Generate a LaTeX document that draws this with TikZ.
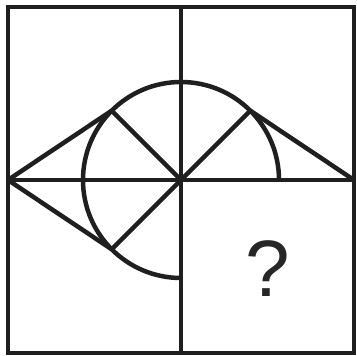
\documentclass[tikz,border=0pt]{standalone}
\usepackage{fontspec}
\setmainfont{Liberation Sans}
\usetikzlibrary{calc}
\begin{document}
\begin{tikzpicture}[x=1pt,y=1pt,
  stroke/.style={draw=black!88, line width=4.5pt, line cap=butt, line join=miter},
  qmark/.style={text=black!85, font=\fontsize{80}{80}\selectfont, inner sep=0pt}]
\useasboundingbox (0,0) rectangle (357,356);
\fill[white] (0,0) rectangle (357,356);
\coordinate (C) at (181,176);
\coordinate (SW) at (8,3);
\coordinate (NE) at (354,349);
\coordinate (L) at (8,176);
\coordinate (R) at (354,176);
\coordinate (T) at (181,349);
\coordinate (B) at (181,3);
\coordinate (UL) at ($(C)+(135:98)$);
\coordinate (UR) at ($(C)+(45:98)$);
\coordinate (LL) at ($(C)+(225:98)$);
\coordinate (E) at ($(C)+(0:98)$);
% grid
\draw[stroke] (SW) rectangle (NE);
\draw[stroke] (T) -- (B);
\draw[stroke] (L) -- (R);
% circle arc (three quarters)
\draw[stroke] (E) arc[start angle=0, end angle=270, radius=98];
% spokes
\draw[stroke] (C) -- (UL);
\draw[stroke] (C) -- (UR);
\draw[stroke] (C) -- (LL);
% outer lines
\draw[stroke] (L) -- (UL);
\draw[stroke] (L) -- (LL);
\draw[stroke] (R) -- (UR);
% question mark
\node[qmark] (q) at (268,87) {?};
\end{tikzpicture}
\end{document}
